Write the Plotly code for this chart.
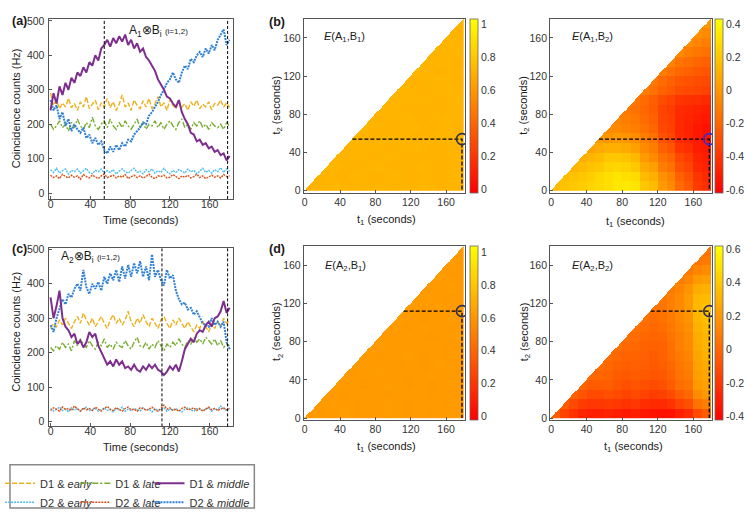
import plotly.graph_objects as go

# ---------------- data ----------------
T_STEP = 3  # seconds between samples
a_d1_early = [290,255,270,245,262,250,275,248,260,240,
              265,250,280,245,258,270,242,262,250,275,
              248,265,240,258,285,250,262,240,270,255,
              245,268,250,275,245,260,280,250,262,240,
              272,255,245,268,250,260,240,265,252,270,
              245,258,250,265,242,260,255,270,250,262,
              248]
a_d1_late = [200,185,195,210,190,200,180,205,190,215,
             195,185,205,190,220,195,185,200,210,190,
             215,195,185,205,190,210,195,185,200,215,
             190,205,185,200,195,210,190,205,185,200,
             210,195,185,205,215,190,200,185,205,195,
             210,190,200,185,205,195,190,200,185,205,
             195]
a_d1_middle = [240,290,260,310,285,320,300,335,320,350,
               340,365,350,380,370,400,385,420,430,445,
               425,450,435,455,440,460,430,445,420,435,
               410,420,395,385,370,355,330,315,300,280,
               275,260,250,270,235,215,200,175,170,150,
               155,140,145,130,135,120,125,110,115,95,
               108]
a_d2_early = [68,60,72,58,65,70,55,66,62,70,
              58,64,72,60,56,66,62,70,58,65,
              60,68,55,64,70,62,58,66,72,60,
              64,56,68,62,70,58,65,60,72,62,
              56,66,60,68,64,58,70,62,66,56,
              64,72,60,66,58,68,62,74,60,70,
              64]
a_d2_late = [52,45,50,42,55,48,44,52,46,50,
             40,54,48,44,52,46,42,50,55,45,
             48,52,44,50,46,54,42,48,52,45,
             50,44,48,55,46,42,50,48,52,44,
             46,54,48,42,50,46,52,44,48,55,
             45,50,42,48,52,46,50,44,54,48,
             50]
a_d2_middle = [270,240,255,215,235,195,215,180,200,185,
               175,190,160,170,145,160,140,150,125,115,
               135,120,140,125,145,135,155,150,170,180,
               190,205,200,225,235,250,265,285,300,320,
               330,350,330,320,350,370,360,390,380,400,
               410,395,420,405,430,415,445,460,475,430,
               445]

c_d1_early = [270,285,275,295,280,300,285,270,290,305,
              285,315,295,280,300,275,290,305,285,270,
              295,310,285,300,280,295,320,290,275,300,
              285,310,290,275,300,285,270,295,305,285,
              270,295,280,300,285,270,290,275,260,280,
              270,290,275,260,285,270,290,275,300,285,
              295]
c_d1_late = [215,205,220,210,230,215,225,205,235,220,
             240,225,215,235,220,210,230,220,240,215,
             225,210,230,220,215,235,220,210,230,245,
             220,215,230,210,225,215,235,220,205,225,
             215,230,220,240,225,215,235,225,245,230,
             240,225,245,235,225,240,220,235,215,225,
             220]
c_d1_middle = [360,300,335,380,300,275,265,245,255,225,
               235,215,230,260,245,255,220,200,185,165,
               175,160,180,165,175,155,160,150,165,150,
               145,160,150,165,155,165,150,145,135,145,
               160,150,165,145,175,210,225,240,230,255,
               265,260,280,290,275,300,305,320,350,315,
               330]
c_d2_early = [38,30,35,42,32,36,28,40,34,38,
              30,36,42,32,35,38,30,34,40,32,
              36,28,38,34,42,30,36,32,38,35,
              30,40,34,36,28,38,32,35,40,30,
              36,34,38,32,28,36,40,34,30,38,
              35,32,36,40,30,38,34,45,36,32,
              38]
c_d2_late = [32,40,36,30,42,35,38,32,45,36,
             30,40,34,38,32,42,36,30,38,44,
             35,32,40,36,30,38,42,34,36,30,
             40,38,32,36,42,34,30,38,48,36,
             40,32,36,30,38,42,34,36,40,32,
             38,30,36,42,34,38,32,36,40,34,
             38]
c_d2_middle = [280,260,300,330,355,340,370,360,385,400,
               380,440,390,370,400,385,405,380,420,400,
               430,410,440,405,450,415,455,420,460,430,
               465,420,450,410,485,420,440,410,395,440,
               415,425,380,355,340,345,325,330,310,320,
               300,285,280,275,300,280,290,275,290,230,
               210]

# marked times (seconds)
mark_t1 = 178
mark_t2_top = 54
mark_t2_bottom = 112

time_ticks = [0, 40, 80, 120, 160]

# correlation maps: 10-s blocks, row r = t2 block, entries for t1 blocks r..17
BLOCK = 10
E_A1B1 = [
 [0.72,0.71,0.72,0.73,0.72,0.71,0.72,0.72,0.73,0.72,0.71,0.72,0.72,0.73,0.72,0.71,0.72,0.72],
 [0.71,0.72,0.72,0.71,0.73,0.72,0.72,0.71,0.72,0.73,0.72,0.71,0.72,0.72,0.71,0.72,0.73],
 [0.72,0.73,0.72,0.71,0.72,0.72,0.73,0.72,0.71,0.72,0.72,0.73,0.72,0.71,0.72,0.72],
 [0.72,0.71,0.72,0.72,0.71,0.72,0.73,0.72,0.72,0.71,0.72,0.72,0.71,0.72,0.73],
 [0.71,0.72,0.73,0.72,0.72,0.71,0.72,0.72,0.73,0.72,0.71,0.72,0.72,0.71],
 [0.72,0.72,0.71,0.72,0.73,0.72,0.72,0.71,0.72,0.72,0.73,0.72,0.72],
 [0.73,0.72,0.72,0.71,0.72,0.72,0.73,0.72,0.71,0.72,0.72,0.71],
 [0.72,0.71,0.72,0.72,0.73,0.72,0.71,0.72,0.72,0.73,0.72],
 [0.72,0.72,0.73,0.72,0.71,0.72,0.72,0.71,0.72,0.72],
 [0.71,0.72,0.72,0.73,0.72,0.72,0.71,0.72,0.73],
 [0.72,0.73,0.72,0.71,0.72,0.72,0.73,0.72],
 [0.72,0.71,0.72,0.72,0.73,0.72,0.71],
 [0.73,0.72,0.72,0.71,0.72,0.72],
 [0.72,0.72,0.73,0.72,0.71],
 [0.71,0.72,0.72,0.73],
 [0.72,0.73,0.72],
 [0.72,0.71],
 [0.72],
]
E_A1B2 = [
 [0.15,0.18,0.2,0.22,0.25,0.27,0.3,0.33,0.34,0.32,0.2,0.15,0.02,-0.05,-0.18,-0.25,-0.38,-0.42],
 [0.16,0.18,0.2,0.23,0.26,0.3,0.32,0.3,0.28,0.15,0.1,-0.02,-0.08,-0.22,-0.28,-0.4,-0.45],
 [0.12,0.15,0.18,0.2,0.25,0.26,0.24,0.2,0.08,0.03,-0.1,-0.15,-0.28,-0.33,-0.45,-0.48],
 [0.1,0.12,0.15,0.2,0.2,0.18,0.14,0.02,-0.05,-0.15,-0.2,-0.32,-0.37,-0.47,-0.5],
 [0.05,0.08,0.1,0.1,0.08,0.04,-0.05,-0.1,-0.22,-0.27,-0.4,-0.43,-0.5,-0.52],
 [0.02,0.0,0.02,0.0,-0.04,-0.1,-0.15,-0.28,-0.32,-0.44,-0.47,-0.52,-0.55],
 [-0.05,-0.05,-0.08,-0.1,-0.15,-0.2,-0.32,-0.35,-0.45,-0.48,-0.52,-0.55],
 [-0.08,-0.1,-0.12,-0.18,-0.22,-0.33,-0.36,-0.45,-0.47,-0.5,-0.52],
 [-0.12,-0.15,-0.2,-0.24,-0.34,-0.37,-0.44,-0.46,-0.48,-0.5],
 [-0.13,-0.18,-0.23,-0.3,-0.34,-0.4,-0.42,-0.43,-0.45],
 [-0.1,-0.15,-0.22,-0.25,-0.3,-0.32,-0.33,-0.35],
 [-0.12,-0.18,-0.22,-0.26,-0.28,-0.3,-0.32],
 [-0.1,-0.15,-0.2,-0.22,-0.25,-0.27],
 [-0.08,-0.14,-0.17,-0.2,-0.22],
 [-0.05,-0.1,-0.13,-0.15],
 [-0.04,-0.07,-0.1],
 [-0.02,-0.05],
 [0.0],
]
E_A2B1 = [
 [0.62,0.61,0.62,0.62,0.63,0.62,0.61,0.62,0.62,0.63,0.62,0.61,0.62,0.62,0.61,0.62,0.63,0.62],
 [0.61,0.62,0.63,0.62,0.62,0.61,0.62,0.62,0.63,0.62,0.61,0.62,0.62,0.63,0.62,0.61,0.62],
 [0.62,0.62,0.61,0.62,0.63,0.62,0.62,0.61,0.62,0.62,0.63,0.62,0.61,0.62,0.62,0.62],
 [0.63,0.62,0.62,0.61,0.62,0.62,0.63,0.62,0.61,0.62,0.62,0.61,0.62,0.63,0.62],
 [0.62,0.61,0.62,0.62,0.63,0.62,0.62,0.61,0.62,0.62,0.63,0.62,0.62,0.61],
 [0.61,0.62,0.62,0.63,0.62,0.61,0.62,0.62,0.61,0.62,0.63,0.62,0.62],
 [0.62,0.62,0.61,0.62,0.62,0.63,0.62,0.61,0.62,0.62,0.61,0.62],
 [0.62,0.63,0.62,0.62,0.61,0.62,0.62,0.63,0.62,0.61,0.62],
 [0.61,0.62,0.62,0.63,0.62,0.62,0.61,0.62,0.62,0.63],
 [0.62,0.62,0.61,0.62,0.63,0.62,0.62,0.61,0.62],
 [0.63,0.62,0.62,0.61,0.62,0.62,0.63,0.62],
 [0.62,0.61,0.62,0.62,0.63,0.62,0.61],
 [0.62,0.62,0.63,0.62,0.61,0.62],
 [0.61,0.62,0.62,0.63,0.62],
 [0.62,0.63,0.62,0.62],
 [0.62,0.61,0.62],
 [0.63,0.62],
 [0.62],
]
E_A2B2 = [
 [-0.05,-0.15,-0.22,-0.28,-0.3,-0.3,-0.28,-0.3,-0.32,-0.3,-0.33,-0.35,-0.36,-0.35,-0.3,-0.25,-0.12,-0.05],
 [-0.05,-0.12,-0.18,-0.2,-0.2,-0.18,-0.2,-0.22,-0.2,-0.24,-0.25,-0.25,-0.22,-0.15,-0.1,0.05,0.1],
 [-0.03,-0.08,-0.12,-0.12,-0.1,-0.12,-0.15,-0.12,-0.15,-0.18,-0.16,-0.12,-0.05,0.0,0.15,0.2],
 [-0.02,-0.05,-0.05,-0.04,-0.08,-0.1,-0.08,-0.1,-0.12,-0.1,-0.05,0.02,0.05,0.2,0.24],
 [0.0,0.0,-0.02,-0.05,-0.06,-0.05,-0.06,-0.08,-0.06,-0.02,0.05,0.08,0.22,0.26],
 [0.02,0.0,-0.03,-0.04,-0.03,-0.04,-0.06,-0.04,0.0,0.06,0.1,0.24,0.28],
 [0.02,0.0,-0.02,-0.02,-0.03,-0.05,-0.03,0.02,0.08,0.12,0.25,0.3],
 [0.03,0.01,0.0,-0.02,-0.03,-0.02,0.03,0.1,0.14,0.27,0.32],
 [0.03,0.02,0.0,-0.01,0.0,0.05,0.1,0.15,0.28,0.32],
 [0.04,0.02,0.0,0.02,0.06,0.12,0.16,0.3,0.34],
 [0.04,0.02,0.04,0.08,0.13,0.18,0.32,0.36],
 [0.05,0.05,0.1,0.14,0.2,0.33,0.36],
 [0.06,0.1,0.14,0.2,0.32,0.34],
 [0.08,0.12,0.18,0.28,0.3],
 [0.08,0.12,0.2,0.22],
 [0.08,0.12,0.15],
 [0.06,0.08],
 [0.05],
]

# ---------------- helpers ----------------
FONT = "Liberation Sans, Arial, sans-serif"
W, H = 751, 518
TICK_SIZE = 10.5


def px(x):
    return x / W


def py(y):
    return 1 - y / H


def times(vals):
    return [T_STEP * i for i in range(len(vals))]


def expand(rows):
    n = len(rows) * BLOCK
    z = []
    for j in range(n):
        row = []
        for i in range(n):
            if j <= i:
                r, c = j // BLOCK, i // BLOCK
                rr = rows[r]
                k = c - r
                row.append(rr[k] if k < len(rr) else rr[-1])
            else:
                row.append(None)
        z.append(row)
    centers = [i + 0.5 for i in range(n)]
    return z, centers


series_style = {
    "early1": dict(color="#EDB120", dash="5px,2px", width=1.4),
    "late1": dict(color="#77AC30", dash="6px,2px,2px,2px", width=1.4),
    "mid1": dict(color="#7E2F8E", dash="solid", width=2.0),
    "early2": dict(color="#4DBEEE", dash="2px,1px", width=1.4),
    "late2": dict(color="#D95319", dash="2px,1px", width=1.4),
    "mid2": dict(color="#2F80D4", dash="2px,1px", width=2.0),
}
names = {
    "early1": "D1 &amp; <i>early</i>", "late1": "D1 &amp; <i>late</i>", "mid1": "D1 &amp; <i>middle</i>",
    "early2": "D2 &amp; <i>early</i>", "late2": "D2 &amp; <i>late</i>", "mid2": "D2 &amp; <i>middle</i>",
}
# legend column for each series (early / late / middle columns)
legend_col = {"early1": "legend", "early2": "legend",
              "late1": "legend2", "late2": "legend2",
              "mid1": "legend3", "mid2": "legend3"}

fig = go.Figure()

panel_a = {"early1": a_d1_early, "late1": a_d1_late, "early2": a_d2_early,
           "late2": a_d2_late, "mid2": a_d2_middle, "mid1": a_d1_middle}
panel_c = {"early1": c_d1_early, "late1": c_d1_late, "early2": c_d2_early,
           "late2": c_d2_late, "mid2": c_d2_middle, "mid1": c_d1_middle}

order = ["early1", "late1", "mid1", "early2", "late2", "mid2"]
draw_order = ["early2", "late2", "late1", "early1", "mid2", "mid1"]
for key in draw_order:
    for data, xa, ya, show in [(panel_a, "x", "y", True), (panel_c, "x2", "y2", False)]:
        vals = data[key]
        fig.add_trace(go.Scatter(
            x=times(vals), y=vals, mode="lines", name=names[key],
            line=series_style[key], xaxis=xa, yaxis=ya,
            showlegend=show, legend=legend_col[key],
            legendrank=order.index(key), hoverinfo="skip"))

# heatmaps
maps = [
    (E_A1B1, "x3", "y3", "coloraxis", mark_t2_top, "#2E2E55"),
    (E_A1B2, "x4", "y4", "coloraxis2", mark_t2_top, "#3A2ED0"),
    (E_A2B1, "x5", "y5", "coloraxis3", mark_t2_bottom, "#2E2E55"),
    (E_A2B2, "x6", "y6", "coloraxis4", mark_t2_bottom, "#2E2E55"),
]
for rows, xa, ya, ca, t2m, ccol in maps:
    z, cen = expand(rows)
    fig.add_trace(go.Heatmap(z=z, x=cen, y=cen, coloraxis=ca, xaxis=xa, yaxis=ya,
                             hoverinfo="skip", showlegend=False))
    fig.add_trace(go.Scatter(x=[t2m, mark_t1, mark_t1], y=[t2m, t2m, 0], mode="lines",
                             line=dict(color="black", dash="4px,2px", width=1.3),
                             xaxis=xa, yaxis=ya, showlegend=False, hoverinfo="skip"))
    fig.add_trace(go.Scatter(x=[mark_t1], y=[t2m], mode="markers",
                             marker=dict(symbol="circle-open", size=11, color=ccol,
                                         line=dict(width=1.6, color=ccol)),
                             xaxis=xa, yaxis=ya, showlegend=False, hoverinfo="skip"))

# ---------------- axes ----------------
axis_common = dict(showgrid=False, zeroline=False, showline=True, mirror=True,
                   linecolor="#555", linewidth=1, ticks="inside", ticklen=3,
                   tickcolor="#555", tickfont=dict(size=TICK_SIZE, color="#333"))

ts_x = [px(41), px(227)]
layout = dict(
    xaxis=dict(domain=ts_x, range=[-2, 183], tickvals=time_ticks, anchor="y",
               ticklabelstandoff=-5, **axis_common),
    yaxis=dict(domain=[py(197), py(14)], range=[-17, 506], tickvals=[0, 100, 200, 300, 400, 500],
               anchor="x", ticklabelstandoff=1, **axis_common),
    xaxis2=dict(domain=ts_x, range=[-2, 183], tickvals=time_ticks, anchor="y2",
                ticklabelstandoff=-5, **axis_common),
    yaxis2=dict(domain=[py(428), py(247)], range=[-14, 503], tickvals=[0, 100, 200, 300, 400, 500],
                anchor="x2", ticklabelstandoff=1, **axis_common),
)
hm_xl = [px(299), px(462)]
hm_xr = [px(548), px(712)]
hm_yt = [py(191), py(14)]
hm_yb = [py(422), py(245)]
for i, (dx, dy) in enumerate([(hm_xl, hm_yt), (hm_xr, hm_yt), (hm_xl, hm_yb), (hm_xr, hm_yb)]):
    n = i + 3
    layout[f"xaxis{n}"] = dict(domain=dx, range=[-1, 181.5], tickvals=time_ticks,
                               anchor=f"y{n}", ticklabelstandoff=-1, **axis_common)
    layout[f"yaxis{n}"] = dict(domain=dy, range=[-2.5, 180], tickvals=time_ticks,
                               anchor=f"x{n}", **axis_common)

autumn = [[0, "rgb(255,0,0)"], [1, "rgb(255,255,0)"]]


def cbar(x_px, y_top, y_bot, vals):
    return dict(x=px(x_px), xanchor="left", y=py((y_top + y_bot) / 2), yanchor="middle",
                len=(y_bot - y_top) / H, lenmode="fraction", thickness=8, thicknessmode="pixels",
                xpad=0, ypad=0, outlinewidth=0.8, outlinecolor="#666", ticks="",
                tickvals=vals, ticktext=[("%g" % v) for v in vals],
                tickfont=dict(size=TICK_SIZE, color="#333"))


layout["coloraxis"] = dict(colorscale=autumn, cmin=-0.024, cmax=1.03,
                           colorbar=cbar(467, 14, 191, [0, 0.2, 0.4, 0.6, 0.8, 1]))
layout["coloraxis2"] = dict(colorscale=autumn, cmin=-0.618, cmax=0.43,
                            colorbar=cbar(715, 14, 191, [-0.6, -0.4, -0.2, 0, 0.2, 0.4]))
layout["coloraxis3"] = dict(colorscale=autumn, cmin=-0.024, cmax=1.036,
                            colorbar=cbar(467, 245, 422, [0, 0.2, 0.4, 0.6, 0.8, 1]))
layout["coloraxis4"] = dict(colorscale=autumn, cmin=-0.424, cmax=0.618,
                            colorbar=cbar(715, 245, 422, [-0.4, -0.2, 0, 0.2, 0.4, 0.6]))

fig.update_layout(**layout)

for vx in [mark_t2_top, mark_t1]:
    fig.add_shape(type="line", xref="x", yref="y domain", x0=vx, x1=vx, y0=0, y1=1,
                  line=dict(color="black", dash="3px,2px", width=1))
for vx in [mark_t2_bottom, mark_t1]:
    fig.add_shape(type="line", xref="x2", yref="y2 domain", x0=vx, x1=vx, y0=0, y1=1,
                  line=dict(color="black", dash="3px,2px", width=1))

# legend box
fig.add_shape(type="rect", xref="paper", yref="paper", x0=px(2), x1=px(249),
              y0=py(511), y1=py(467), line=dict(color="#888", width=1.5))

# ---------------- text ----------------
def ann(x, y, text, size=11, xanchor="center", angle=0):
    fig.add_annotation(x=px(x), y=py(y), xref="paper", yref="paper", text=text,
                       showarrow=False, xanchor=xanchor, yanchor="middle", textangle=angle,
                       font=dict(size=size, family=FONT, color="#1a1a1a"))


for lab, x, y in [("(a)", 12, 16), ("(b)", 272, 17), ("(c)", 12, 248), ("(d)", 272, 248)]:
    ann(x, y, f"<b>{lab}</b>", size=12.5)

ann(8, 105, "Coincidence counts (Hz)", angle=-90)
ann(8, 332, "Coincidence counts (Hz)", angle=-90)
ann(134, 218, "Time (seconds)")
ann(134, 449, "Time (seconds)")
ann(120, 26, "A<sub>1</sub>⊗B<sub>i</sub> <span style='font-size:8px'>(i=1,2)</span>", size=12, xanchor="left")
ann(52, 256, "A<sub>2</sub>⊗B<sub>i</sub> <span style='font-size:8px'>(i=1,2)</span>", size=12, xanchor="left")

for xc, yc, xt, yt in [(272, 102, 383, 218), (522, 102, 634, 220), (272, 332, 383, 449), (522, 332, 632, 449)]:
    ann(xc, yc, "t<sub>2</sub> (seconds)", angle=-90)
    ann(xt, yt, "t<sub>1</sub> (seconds)")

ann(317, 33, "<i>E</i>(A<sub>1</sub>,B<sub>1</sub>)", xanchor="left")
ann(568, 33, "<i>E</i>(A<sub>1</sub>,B<sub>2</sub>)", xanchor="left")
ann(318, 265, "<i>E</i>(A<sub>2</sub>,B<sub>1</sub>)", xanchor="left")
ann(568, 265, "<i>E</i>(A<sub>2</sub>,B<sub>2</sub>)", xanchor="left")

legend_common = dict(orientation="v", xanchor="left", yanchor="top", y=py(471),
                     itemwidth=30, bgcolor="rgba(0,0,0,0)",
                     font=dict(size=11, family=FONT, color="#333"), tracegroupgap=0,
                     traceorder="normal")
fig.update_layout(
    width=W, height=H, margin=dict(l=0, r=0, t=0, b=0),
    paper_bgcolor="white", plot_bgcolor="white",
    font=dict(family=FONT, size=11, color="#333"),
    legend=dict(x=px(-8), **legend_common),
    legend2=dict(x=px(68), **legend_common),
    legend3=dict(x=px(143), **legend_common),
)

fig.write_html("out.html")
